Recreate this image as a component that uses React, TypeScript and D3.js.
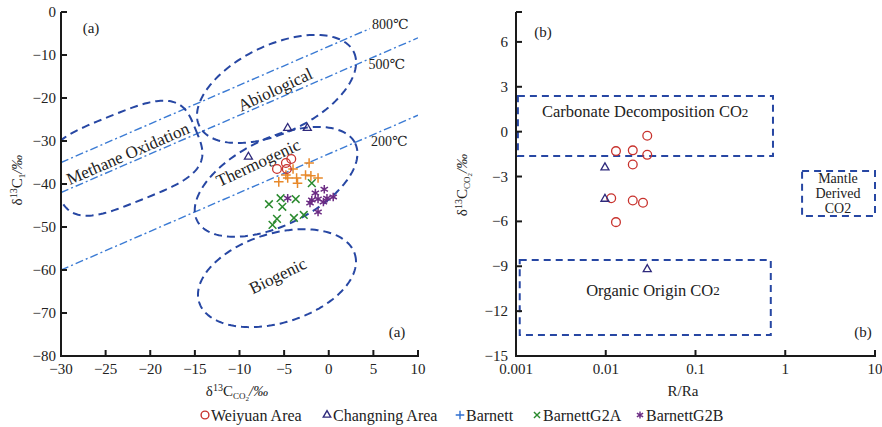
import React from 'react';
import * as d3 from 'd3';

// ---- panel (a): δ13C CO2 vs δ13C1 ----
const aXTicks = [-30, -25, -20, -15, -10, -5, 0, 5, 10];
const aYTicks = [0, -10, -20, -30, -40, -50, -60, -70, -80];

const weiyuanA: [number, number][] = [[-5.8, -36.5], [-4.8, -35.1], [-4.2, -34.2], [-4.7, -36.5]];
const changningA: [number, number][] = [[-4.6, -27.0], [-2.4, -27.0], [-9.0, -33.7]];
const barnett: [number, number][] = [
  [-2.2, -35.1], [-4.0, -36.5], [-4.8, -37.9], [-5.6, -39.5], [-3.6, -38.6],
  [-3.5, -39.8], [-2.6, -37.9], [-2.0, -38.1], [-1.2, -38.6], [-4.6, -38.6],
];
const barnettG2A: [number, number][] = [
  [-1.9, -39.8], [-6.7, -44.7], [-5.4, -43.3], [-3.7, -43.5], [-5.2, -45.3],
  [-5.8, -48.1], [-6.3, -49.5], [-3.9, -47.9], [-2.8, -47.2],
];
const barnettG2B: [number, number][] = [
  [-4.6, -43.3], [-1.5, -42.1], [-0.5, -41.2], [-1.9, -43.7], [-1.2, -43.5],
  [-0.2, -43.3], [0.5, -43.0], [-0.6, -44.2], [-1.2, -46.5], [-2.1, -44.4],
];

// isotherm lines y = slope * x + intercept
const isoNames = ['800℃', '500℃', '200℃'];
const isoSlope = 0.9;
const isoIntercepts = [-8, -15, -33];
const isoXEnd = [4.6, 10, 10];
const isoLabelAt: [number, number][] = [[6.9, -3.0], [6.5, -12.3], [6.8, -30.0]];

// genetic regions: centre, half-axis vectors (data units), squareness
const regionNames = ['Methane Oxidation', 'Abiological', 'Thermogenic', 'Biogenic'];
const regionCentres: [number, number][] = [[-22.8, -34.0], [-5.85, -17.9], [-5.9, -39.5], [-5.8, -61.9]];
const regionMajor: [number, number][] = [[7.9, 6.6], [8.66, 8.57], [8.86, 8.97], [8.73, 5.56]];
const regionMinor: [number, number][] = [[1.89, -9.6], [2.11, -9.19], [2.14, -9.09], [1.47, -9.94]];
const regionPower = [3.5, 2, 2, 2];
const regionLabelAt: [number, number][] = [[-22.5, -33.0], [-6.0, -18.1], [-7.9, -35.1], [-5.7, -61.4]];
const regionLabelAngle = [-23.5, -25, -25, -26];

// ---- panel (b): R/Ra vs δ13C CO2 ----
const bXTicks = [0.001, 0.01, 0.1, 1, 10];
const bXLabels = ['0.001', '0.01', '0.1', '1', '10'];
const bYTicks = [6, 3, 0, -3, -6, -9, -12, -15];

const weiyuanB: [number, number][] = [
  [0.029, -0.27], [0.013, -1.3], [0.02, -1.25], [0.029, -1.55], [0.02, -2.2],
  [0.0115, -4.45], [0.02, -4.6], [0.026, -4.75], [0.013, -6.05],
];
const changningB: [number, number][] = [[0.0098, -2.4], [0.0098, -4.5], [0.029, -9.2]];

const boxNames = ['Carbonate Decomposition', 'Organic Origin', 'Mantle'];
const boxX: [number, number][] = [[0.00105, 0.73], [0.0011, 0.69], [1.54, 10]];
const boxY: [number, number][] = [[-1.63, 2.39], [-13.6, -8.58], [-5.64, -2.63]];
const mantleLines = ['Mantle', 'Derived', 'CO2'];
const mantleLineY = [-3.15, -4.15, -5.12];

const legendNames = ['Weiyuan Area', 'Changning Area', 'Barnett', 'BarnettG2A', 'BarnettG2B'];

const SERIF = '"Liberation Serif", "DejaVu Serif", serif';
const AXIS = '#1a1a1a';
const REGION = '#2747a3';
const ISO = '#3b7bd4';
const RED = '#c8322d';
const NAVY = '#2f2a7c';
const ORANGE = '#e8892a';
const GREEN = '#2a8a2e';
const PURPLE = '#6b2b83';
const LEG_PLUS = '#2f6fd0';

const fmt = d3.format('d');

const anyD3 = d3 as any;
const sym = (type: d3.SymbolType, size: number) => d3.symbol().type(type).size(size)() as string;
const circlePath = sym(d3.symbolCircle, 60);
const triPath = sym(anyD3.symbolTriangle2 ?? d3.symbolTriangle, 46);
const plusPath = sym(anyD3.symbolPlus ?? d3.symbolCross, 32);
const timesPath = sym(anyD3.symbolTimes ?? d3.symbolCross, 40);
const starPath = sym(anyD3.symbolAsterisk ?? d3.symbolStar, 50);
const legPlus = sym(anyD3.symbolPlus ?? d3.symbolCross, 26);
const legTimes = sym(anyD3.symbolTimes ?? d3.symbolCross, 26);
const legStar = sym(anyD3.symbolAsterisk ?? d3.symbolStar, 36);
const legCircle = sym(d3.symbolCircle, 48);
const legTri = sym(anyD3.symbolTriangle2 ?? d3.symbolTriangle, 40);

export default function App() {
  // panel (a) scales
  const ax = d3.scaleLinear().domain([-30, 10]).range([61, 418]);
  const ay = d3.scaleLinear().domain([-80, 0]).range([356, 12]);
  // panel (b) scales
  const bx = d3.scaleLog().domain([0.001, 10]).range([516, 875]);
  const by = d3.scaleLinear().domain([-15, 8]).range([356, 12]);

  const regionPath = (i: number) => {
    const [cx, cy] = regionCentres[i];
    const [ux, uy] = regionMajor[i];
    const [vx, vy] = regionMinor[i];
    const e = 2 / regionPower[i];
    const pts: [number, number][] = d3.range(0, 160).map((k) => {
      const t = (k / 160) * Math.PI * 2;
      const c = Math.cos(t), s = Math.sin(t);
      const fc = Math.sign(c) * Math.pow(Math.abs(c), e);
      const fs = Math.sign(s) * Math.pow(Math.abs(s), e);
      return [ax(cx + ux * fc + vx * fs), ay(cy + uy * fc + vy * fs)];
    });
    return d3.line().curve(d3.curveLinearClosed)(pts) as string;
  };

  const marker = (d: string, x: number, y: number, color: string, key: string, w = 1.3) => (
    <path key={key} d={d} transform={`translate(${x},${y})`} fill="none" stroke={color} strokeWidth={w} />
  );

  const legendItems = [
    { d: legCircle, color: RED, x: 205 },
    { d: legTri, color: NAVY, x: 327 },
    { d: legPlus, color: LEG_PLUS, x: 460 },
    { d: legTimes, color: GREEN, x: 537 },
    { d: legStar, color: PURPLE, x: 640 },
  ];

  return (
    <div style={{ position: 'absolute', left: 0, top: 0 }}>
      <svg width={882} height={427} style={{ display: 'block', background: '#fff' }} fontFamily={SERIF}>
        <defs>
          <clipPath id="clipA">
            <rect x={61} y={12} width={357} height={344} />
          </clipPath>
        </defs>

        {/* ---------- panel (a) ---------- */}
        <g clipPath="url(#clipA)">
          {isoIntercepts.map((b, i) => (
            <line key={`iso${i}`} x1={ax(-30)} y1={ay(isoSlope * -30 + b)} x2={ax(isoXEnd[i])} y2={ay(isoSlope * isoXEnd[i] + b)}
              stroke={ISO} strokeWidth={1.4} strokeDasharray="8,3,2,3" />
          ))}
          {regionNames.map((n, i) => (
            <path key={n} d={regionPath(i)} fill="none" stroke={REGION} strokeWidth={2} strokeDasharray="8,5" />
          ))}
        </g>
        {isoNames.map((n, i) => (
          <text key={n} x={ax(isoLabelAt[i][0])} y={ay(isoLabelAt[i][1])} textAnchor="middle" dominantBaseline="central" fontSize={14} fill="#222">{n}</text>
        ))}
        {regionNames.map((n, i) => (
          <text key={`l${n}`} transform={`translate(${ax(regionLabelAt[i][0])},${ay(regionLabelAt[i][1])}) rotate(${regionLabelAngle[i]})`}
            textAnchor="middle" dominantBaseline="central" fontSize={17} fill="#222">{n}</text>
        ))}

        {barnett.map(([x, y], i) => marker(plusPath, ax(x), ay(y), ORANGE, `ba${i}`, 1.5))}
        {barnettG2A.map(([x, y], i) => marker(timesPath, ax(x), ay(y), GREEN, `g2a${i}`, 1.5))}
        {barnettG2B.map(([x, y], i) => marker(starPath, ax(x), ay(y), PURPLE, `g2b${i}`, 1.5))}
        {weiyuanA.map(([x, y], i) => marker(circlePath, ax(x), ay(y), RED, `wa${i}`))}
        {changningA.map(([x, y], i) => marker(triPath, ax(x), ay(y), NAVY, `ca${i}`))}

        {/* axes (a) */}
        <line x1={61} y1={12} x2={61} y2={356} stroke={AXIS} strokeWidth={2} />
        <line x1={60} y1={356} x2={419} y2={356} stroke={AXIS} strokeWidth={2} />
        {aYTicks.map((t) => (
          <g key={`ay${t}`}>
            <line x1={61} x2={67} y1={ay(t)} y2={ay(t)} stroke={AXIS} strokeWidth={2} />
            <text x={56} y={ay(t)} textAnchor="end" dominantBaseline="central" fontSize={15} fill="#222">{fmt(t)}</text>
          </g>
        ))}
        {aXTicks.map((t) => (
          <g key={`ax${t}`}>
            <line x1={ax(t)} x2={ax(t)} y1={356} y2={350} stroke={AXIS} strokeWidth={2} />
            <text x={ax(t)} y={374} textAnchor="middle" fontSize={15} fill="#222">{fmt(t)}</text>
          </g>
        ))}
        <text x={91} y={28} textAnchor="middle" dominantBaseline="central" fontSize={15} fill="#222">(a)</text>
        <text x={397} y={332} textAnchor="middle" dominantBaseline="central" fontSize={15} fill="#222">(a)</text>
        <text x={237} y={396} textAnchor="middle" fontSize={15} fill="#222">
          δ<tspan fontSize={10} dy={-5}>13</tspan><tspan dy={5}>C</tspan><tspan fontSize={9} dy={3}>CO</tspan><tspan fontSize={7} dy={2}>2</tspan><tspan dy={-5} fontStyle="italic">/‰</tspan>
        </text>
        <text transform="translate(22,180) rotate(-90)" textAnchor="middle" fontSize={15} fill="#222">
          δ<tspan fontSize={10} dy={-5}>13</tspan><tspan dy={5}>C</tspan><tspan fontSize={9} dy={3}>1</tspan><tspan dy={-3} fontStyle="italic">/‰</tspan>
        </text>

        {/* ---------- panel (b) ---------- */}
        {boxNames.map((n, i) => (
          <rect key={n} x={bx(boxX[i][0])} y={by(boxY[i][1])} width={bx(boxX[i][1]) - bx(boxX[i][0])} height={by(boxY[i][0]) - by(boxY[i][1])}
            fill="none" stroke={REGION} strokeWidth={2} strokeDasharray="7,5" />
        ))}
        <text x={bx(0.0275)} y={by(1.32)} textAnchor="middle" dominantBaseline="central" fontSize={16.5} fill="#222">
          Carbonate Decomposition CO<tspan fontSize={13}>2</tspan>
        </text>
        <text x={bx(0.0336)} y={by(-10.6)} textAnchor="middle" dominantBaseline="central" fontSize={16.5} fill="#222">
          Organic Origin CO<tspan fontSize={13}>2</tspan>
        </text>
        {mantleLines.map((s, i) => (
          <text key={s} x={bx(3.87)} y={by(mantleLineY[i])} textAnchor="middle" dominantBaseline="central" fontSize={14} fill="#222">{s}</text>
        ))}

        {weiyuanB.map(([x, y], i) => marker(circlePath, bx(x), by(y), RED, `wb${i}`))}
        {changningB.map(([x, y], i) => marker(triPath, bx(x), by(y), NAVY, `cb${i}`))}

        {/* axes (b) */}
        <line x1={516} y1={12} x2={516} y2={356} stroke={AXIS} strokeWidth={2} />
        <line x1={515} y1={356} x2={876} y2={356} stroke={AXIS} strokeWidth={2} />
        <line x1={516} x2={522} y1={12} y2={12} stroke={AXIS} strokeWidth={2} />
        {bYTicks.map((t) => (
          <g key={`by${t}`}>
            <line x1={516} x2={522} y1={by(t)} y2={by(t)} stroke={AXIS} strokeWidth={2} />
            <text x={508} y={by(t)} textAnchor="end" dominantBaseline="central" fontSize={15} fill="#222">{fmt(t)}</text>
          </g>
        ))}
        {bXTicks.map((t, i) => (
          <g key={`bx${t}`}>
            <line x1={bx(t)} x2={bx(t)} y1={356} y2={350} stroke={AXIS} strokeWidth={2} />
            <text x={bx(t)} y={374} textAnchor="middle" fontSize={15} fill="#222">{bXLabels[i]}</text>
          </g>
        ))}
        <text x={543} y={32} textAnchor="middle" dominantBaseline="central" fontSize={15} fill="#222">(b)</text>
        <text x={863} y={332} textAnchor="middle" dominantBaseline="central" fontSize={15} fill="#222">(b)</text>
        <text x={683} y={396} textAnchor="middle" fontSize={15} fill="#222">R/Ra</text>
        <text transform="translate(467,185) rotate(-90)" textAnchor="middle" fontSize={15} fill="#222">
          δ<tspan fontSize={10} dy={-5}>13</tspan><tspan dy={5}>C</tspan><tspan fontSize={9} dy={3}>CO</tspan><tspan fontSize={7} dy={2}>2</tspan><tspan dy={-5} fontStyle="italic">/‰</tspan>
        </text>

        {/* legend */}
        {legendItems.map((it, i) => (
          <g key={legendNames[i]}>
            {marker(it.d, it.x, 415, it.color, `lm${i}`, 1.4)}
            <text x={it.x + 6} y={415} dominantBaseline="central" fontSize={16} fill="#222">{legendNames[i]}</text>
          </g>
        ))}
      </svg>
    </div>
  );
}
